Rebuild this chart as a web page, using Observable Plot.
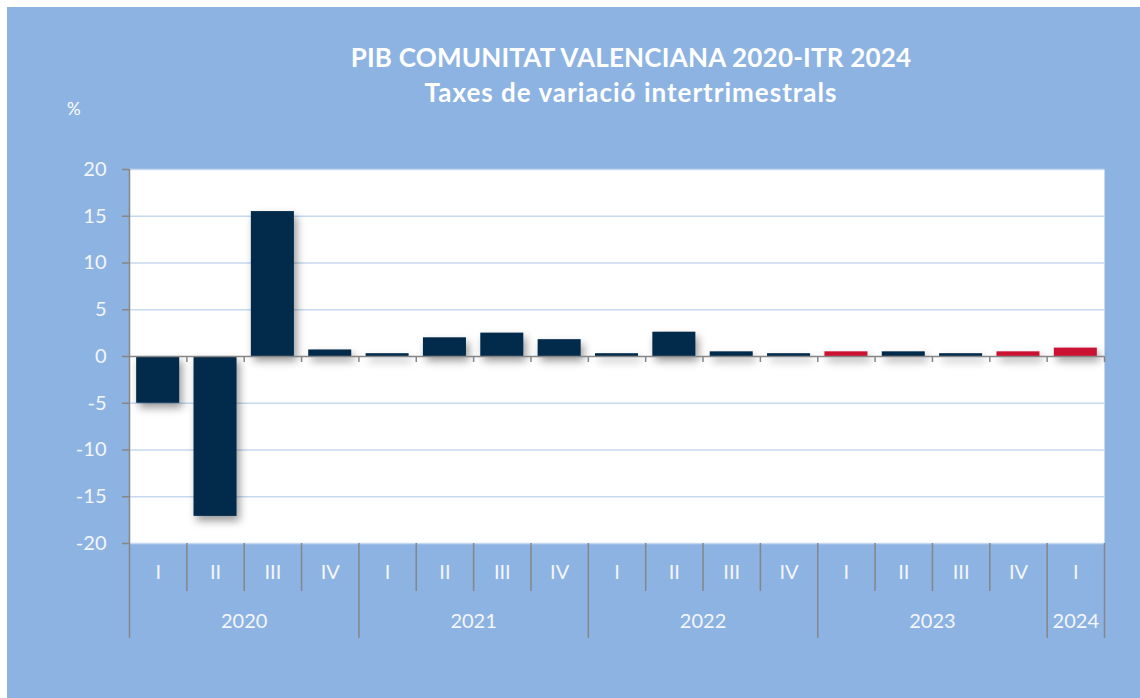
<!DOCTYPE html>
<html>
<head>
<meta charset="utf-8">
<script src="https://cdn.jsdelivr.net/npm/d3@7"></script>
<script src="https://cdn.jsdelivr.net/npm/@observablehq/plot@0.6"></script>
<style>
  html, body { margin: 0; padding: 0; background: #ffffff; }
  #panel { position: absolute; left: 7px; top: 7px; width: 1133px; height: 691px; background: #8DB3E2; }
  #chart { position: absolute; left: 0; top: 0; }
  .ttl { position: absolute; left: 0; width: 1262px; text-align: center; color: #FFFFFF;
         font-family: Lato, "Open Sans", sans-serif; font-weight: 700; font-size: 26px; line-height: 26px; white-space: nowrap; }
  #unit { position: absolute; left: 67px; top: 100px; color: #FFFFFF; font-family: Lato, sans-serif; font-size: 17px; line-height: 17px; }
</style>
</head>
<body>
<div id="panel"></div>
<div class="ttl" id="t1" style="top:44px; letter-spacing:0.2px">PIB COMUNITAT VALENCIANA 2020-ITR 2024</div>
<div class="ttl" id="t2" style="top:79px; letter-spacing:1px">Taxes de variació intertrimestrals</div>
<div id="unit">%</div>
<div id="chart"></div>
<script>
// ---- data ----
const quarters = ["I","II","III","IV","I","II","III","IV","I","II","III","IV","I","II","III","IV","I"];
const years    = ["2020","2020","2020","2020","2021","2021","2021","2021","2022","2022","2022","2022","2023","2023","2023","2023","2024"];
const values   = [-5.0, -17.1, 15.5, 0.7, 0.3, 2.0, 2.5, 1.8, 0.3, 2.6, 0.5, 0.3, 0.5, 0.5, 0.3, 0.5, 0.9];
const series   = ["base","base","base","base","base","base","base","base","base","base","base","base","highlight","base","base","highlight","highlight"];
const yTicks   = [-20, -15, -10, -5, 0, 5, 10, 15, 20];
const yearLabels = ["2020","2021","2022","2023","2024"];

const data = quarters.map((q, i) => ({key: years[i] + "-" + q, q, year: years[i], value: values[i], series: series[i]}));

const W = 1140, H = 698, ML = 129, MR = 36, MT = 169, MB = 155;
const frameH = H - MT - MB;
const step = (W - ML - MR) / data.length;

const qBounds = data.filter(d => d.q !== "I");          // boundaries inside a year
const yBounds = data.filter(d => d.q === "I");          // boundaries at year starts
const lastItem = [data[data.length - 1]];
const yearFull = yearLabels.filter(y => data.filter(d => d.year === y).length === 4)
  .map(y => data.find(d => d.year === y && d.q === "II"));
const yearPart = yearLabels.filter(y => data.filter(d => d.year === y).length === 1)
  .map(y => data.find(d => d.year === y));

const grey = "#868686", white = "#F4F6FA";

const chart = Plot.plot({
  width: W, height: H,
  marginLeft: ML, marginRight: MR, marginTop: MT, marginBottom: MB,
  style: {fontFamily: "Lato, 'Open Sans', sans-serif", fontSize: "20px", background: "transparent", overflow: "visible"},
  x: {type: "band", domain: data.map(d => d.key), paddingInner: 0.25, paddingOuter: 0.125, round: false, axis: null},
  y: {domain: [-20, 20], axis: null, label: null},
  color: {domain: ["base", "highlight"], range: ["#012A4B", "#CC1233"]},
  marks: [
    Plot.frame({fill: "#FFFFFF", stroke: null}),
    Plot.ruleY(yTicks.filter(t => t !== 0), {stroke: "#C6D9F1", strokeWidth: 1.5}),
    Plot.barY(data, {x: "key", y: "value", fill: "series"}),
    Plot.ruleY([0], {stroke: grey, strokeWidth: 1.5}),
    // small ticks under the zero line at category boundaries
    Plot.ruleX(data.slice(1), {x: "key", y1: 0, y2: 0, dx: -step / 2, insetBottom: -6, stroke: grey, strokeWidth: 1.5}),
    Plot.ruleX(lastItem, {x: "key", y1: 0, y2: 0, dx: step / 2, insetBottom: -6, stroke: grey, strokeWidth: 1.5}),
    // y axis
    Plot.axisY({ticks: yTicks, tickFormat: d => String(d), tickSize: 7, tickPadding: 16, stroke: grey, strokeWidth: 1.5, fill: white, fontSize: 20, label: null}),
    // left axis line (full height down to year row)
    Plot.ruleX([data[0]], {x: "key", dx: -step / 2, insetBottom: -95, stroke: grey, strokeWidth: 1.5}),
    // quarter separators below the plot
    Plot.ruleX(qBounds, {x: "key", dx: -step / 2, insetTop: frameH, insetBottom: -48, stroke: grey, strokeWidth: 1.5}),
    // year separators below the plot
    Plot.ruleX(yBounds.slice(1), {x: "key", dx: -step / 2, insetTop: frameH, insetBottom: -95, stroke: grey, strokeWidth: 1.5}),
    Plot.ruleX(lastItem, {x: "key", dx: step / 2, insetTop: frameH, insetBottom: -95, stroke: grey, strokeWidth: 1.5}),
    // quarter labels
    Plot.text(data, {x: "key", text: "q", frameAnchor: "bottom", dy: 35, fill: white, fontSize: 20}),
    // year labels
    Plot.text(yearFull, {x: "key", text: "year", frameAnchor: "bottom", dy: 84, dx: step / 2, fill: white, fontSize: 20}),
    Plot.text(yearPart, {x: "key", text: "year", frameAnchor: "bottom", dy: 84, fill: white, fontSize: 20})
  ]
});

document.getElementById("chart").appendChild(chart);
// bar shadows
d3.select(chart).selectAll("g[aria-label='bar'] rect")
  .style("filter", "drop-shadow(3px 5px 4px rgba(0,0,0,0.4))");
</script>
</body>
</html>
